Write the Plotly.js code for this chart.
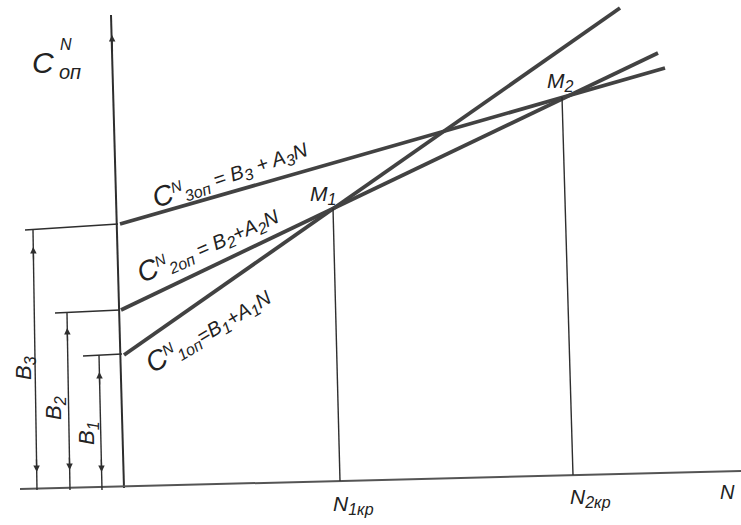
<!DOCTYPE html>
<html>
<head>
<meta charset="utf-8">
<script src="https://cdn.plot.ly/plotly-3.0.1.min.js"></script>
<style>
html,body{margin:0;padding:0;background:#ffffff;}
#chart{width:741px;height:525px;}
</style>
</head>
<body>
<div id="chart"></div>
<script>
// Cost lines C_i = B_i + A_i N, read as start/end points of the drawn lines
const lineNames = ['C1', 'C2', 'C3'];
const lineStartN = [4, 1, 0];
const lineStartC = [130, 175, 261];      // B1, B2, B3
const lineEndN = [500, 538, 545];
const lineEndC = [477, 432, 417];

// Critical points M1, M2 and their feet on the N axis
const critNames = ['M1', 'M2'];
const critTopN = [213, 442];
const critTopC = [277, 388];
const critBaseN = [220, 453];
const critBaseC = [4, 10];

// B level marks (horizontal leaders) and dimension lines
const levelStartN = [-37, -65, -95];
const levelStartC = [129, 172, 255];
const levelEndN = [2, 0, -2];
const levelEndC = [131, 175, 261];
const dimTopN = [-21, -53, -87];
const dimTopC = [130, 172, 255];
const dimBaseN = [-18, -50, -83];
const dimBaseC = [-5, -5, -5];
const dimArrowUpC = [113, 157, 238];
const dimArrowDownC = [13, 15, 13];

// Axes of the drawing
const axisYN = [-9, 4];
const axisYC = [470, -3];
const axisXN = [-100, 621];
const axisXC = [-4, 14];

const ink = '#2e2e2e';
const thick = '#424242';
const FONT = 'Liberation Sans, DejaVu Sans, sans-serif';

const traces = [];
function seg(x, y, w, c) {
  traces.push({type: 'scatter', mode: 'lines', x: x, y: y,
    line: {color: c, width: w}, hoverinfo: 'skip', showlegend: false});
}
seg(axisYN, axisYC, 2, ink);
seg(axisXN, axisXC, 2, '#555');
for (let i = 0; i < lineNames.length; i++) {
  seg([lineStartN[i], lineEndN[i]], [lineStartC[i], lineEndC[i]], 3.8, thick);
}
for (let i = 0; i < critNames.length; i++) {
  seg([critTopN[i], critBaseN[i]], [critTopC[i], critBaseC[i]], 1.4, ink);
}
for (let i = 0; i < 3; i++) {
  seg([levelStartN[i], levelEndN[i]], [levelStartC[i], levelEndC[i]], 1.6, ink);
  seg([dimTopN[i], dimBaseN[i]], [dimTopC[i], dimBaseC[i]], 1.4, ink);
}

const ann = [];
function txt(x, y, text, size, angle) {
  ann.push({x: x, y: y, xref: 'x', yref: 'y', text: text, showarrow: false,
    textangle: angle || 0, font: {family: FONT, size: size, color: '#222'}});
}
function arrow(xh, yh, xt, yt) {
  ann.push({x: xh, y: yh, ax: xt, ay: yt, xref: 'x', yref: 'y', axref: 'x', ayref: 'y',
    text: '', showarrow: true, arrowhead: 2, arrowsize: 1, arrowwidth: 1.3, arrowcolor: ink});
}
for (let i = 0; i < 3; i++) {
  const xu = dimTopN[i] + (dimBaseN[i] - dimTopN[i]) * (dimTopC[i] - dimArrowUpC[i]) / (dimTopC[i] - dimBaseC[i]);
  const xd = dimTopN[i] + (dimBaseN[i] - dimTopN[i]) * (dimTopC[i] - dimArrowDownC[i]) / (dimTopC[i] - dimBaseC[i]);
  arrow(xu, dimArrowUpC[i], xu + 0.3, dimArrowUpC[i] - 14);
  arrow(xd, dimArrowDownC[i], xd - 0.3, dimArrowDownC[i] + 14);
}
arrow(-8, 450, -7.5, 432);

const bigC = "<span style='font-size:28px'>C</span>";
function sub(t) { return "<sub><span style='font-size:16px'>" + t + "</span></sub>"; }
function sup(t) { return "<sup><span style='font-size:15px'>" + t + "</span></sup>"; }
txt(110, 312, '<i>' + bigC + sup('N') + sub('3оп') + ' = B' + sub('3') + ' + A' + sub('3') + 'N</i>', 20, -19);
txt(88, 241, '<i>' + bigC + sup('N') + sub('2оп') + ' = B' + sub('2') + '+A' + sub('2') + 'N</i>', 20, -24);
txt(88, 155, '<i>' + bigC + sup('N') + sub('1оп') + '=B' + sub('1') + '+A' + sub('1') + 'N</i>', 20, -31);
txt(203, 290, '<i>M' + sub('1') + '</i>', 21, 0);
txt(440, 403, '<i>M' + sub('2') + '</i>', 21, 0);
txt(233, -20, '<i>N' + sub('1кр') + '</i>', 21, 0);
txt(470, -13, '<i>N' + sub('2кр') + '</i>', 21, 0);
txt(607, -7, '<i>N</i>', 20, 0);
txt(-95, 117, '<i>B' + sub('3') + '</i>', 22, -90);
txt(-65, 77, '<i>B' + sub('2') + '</i>', 22, -90);
txt(-32, 52, '<i>B' + sub('1') + '</i>', 22, -90);
txt(-77, 423, '<i>C</i>', 30, 0);
txt(-54, 441, '<i>N</i>', 16, 0);
txt(-50, 413, '<i>оп</i>', 20, 0);

const layout = {
  width: 741, height: 525,
  margin: {l: 0, r: 0, t: 0, b: 0},
  paper_bgcolor: '#ffffff', plot_bgcolor: '#ffffff',
  xaxis: {range: [-120, 621], visible: false, fixedrange: true},
  yaxis: {range: [-40, 485], visible: false, fixedrange: true},
  annotations: ann,
  showlegend: false
};
Plotly.newPlot('chart', traces, layout, {staticPlot: true});
</script>
</body>
</html>
